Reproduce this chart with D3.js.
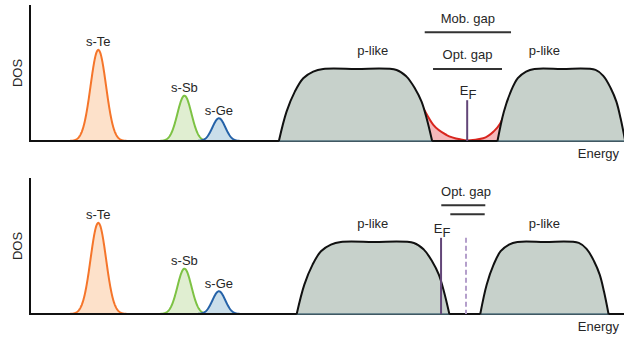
<!DOCTYPE html>
<html lang="en">
<head>
<meta charset="UTF-8">
<title>DOS schematic</title>
<style>
  body { margin: 0; background: #fff; }
  svg { display: block; font-family: "Liberation Sans", Arial, sans-serif; }
</style>
</head>
<body>
<svg width="624" height="340"></svg>
<script src="https://d3js.org/d3.v7.min.js"></script>
<script>

// Data (energy in arbitrary units 0-100, DOS normalised 0-1)

const peakNames = ["s-Te", "s-Sb", "s-Ge"];
const peakCenters = [11.5, 26.0, 31.8];
const peakHeights = [0.67, 0.333, 0.167];
const peakSigmas = [1.3, 1.18, 1.08];

// p-like band outline, normalised to the band width (u) and height (v)
const bandU = [0, 0.05, 0.104, 0.159, 0.224, 0.289, 0.5, 0.768, 0.833, 0.887, 0.931, 0.964, 1];
const bandV = [0, 0.407, 0.685, 0.871, 0.963, 1, 1, 0.986, 0.893, 0.732, 0.546, 0.315, 0];
const bandHeight = 0.53;

// per panel: [valence band, conduction band]
const bandStart = [[41.9, 78.7], [44.9, 75.8]];
const bandEnd = [[67.7, 100.2], [70.6, 97.4]];
const bandLabelE = [57.7, 86.6];

const fermi = [73.6, 69.2];
const fermiTop = [0.30, 0.56];
const fermiOld = [null, 73.4];

// localized tail states (top panel only)
const tailE = [65.3, 65.9, 67.9, 70.15, 72.4, 73.7, 76.3, 78.0, 79.1, 80.0, 80.5];
const tailD = [0.309, 0.265, 0.118, 0.044, 0.0125, 0.004, 0.02, 0.068, 0.125, 0.213, 0.272];

// gap bars: [label, start, end, dos]
const gapsTop = [["Mob. gap", 66.45, 80.98, 0.80], ["Opt. gap", 67.85, 79.46, 0.53]];
const gapsBottom = [["Opt. gap", 69.24, 76.65, 0.80], ["", 70.76, 76.55, 0.733]];
const gapLabelE = [null, 73.4];

// Layout

const width = 624;
const panelBase = [141, 314];
const panelH = 136;
const x0 = 30;
const FONT = 13;

// Colors

const PEAK_STROKE = ["#f5752a", "#7dc244", "#2562a8"];
const PEAK_FILL = ["#fde1ca", "#e0eed1", "#cadeea"];
const BAND_FILL = "#c7d1cb";
const TAIL = "#d8261f";
const TAIL_FILL = "#f5b8bb";
const EF = "#634678";
const EF_OLD = "#b49fcb";
const TEXT = "#262626";

const svg = d3.select("svg");

const x = d3.scaleLinear().domain([0, 100]).range([x0, width]);

function gauss(c, h, s) {
  return d3.range(c - 4.5 * s, c + 4.5 * s, 0.05).map(e => [e, h * Math.exp(-((e - c) ** 2) / (2 * s * s))]);
}

[0, 1].forEach(p => {
  const y = d3.scaleLinear().domain([0, 1]).range([panelBase[p], panelBase[p] - panelH]);
  const g = svg.append("g");

  const line = d3.line().x(d => x(d[0])).y(d => y(d[1]));
  const area = d3.area().x(d => x(d[0])).y0(y(0)).y1(d => y(d[1]));

  // s-like peaks
  peakNames.forEach((name, i) => {
    const pts = gauss(peakCenters[i], peakHeights[i], peakSigmas[i]);
    g.append("path").attr("d", area(pts)).attr("fill", PEAK_FILL[i]);
    g.append("path").attr("d", line(pts)).attr("fill", "none")
      .attr("stroke", PEAK_STROKE[i]).attr("stroke-width", 2);
    g.append("text")
      .attr("x", x(peakCenters[i])).attr("y", y(peakHeights[i]) - 3.5)
      .attr("text-anchor", "middle").attr("font-size", FONT).attr("fill", TEXT)
      .text(name);
  });

  // tail states
  if (p === 0) {
    const tail = tailE.map((e, i) => [e, tailD[i]]);
    g.append("path").attr("d", area.curve(d3.curveMonotoneX)(tail)).attr("fill", TAIL_FILL);
    g.append("path").attr("d", line.curve(d3.curveMonotoneX)(tail)).attr("fill", "none")
      .attr("stroke", TAIL).attr("stroke-width", 2);
    area.curve(d3.curveLinear);
    line.curve(d3.curveLinear);
  }

  // baseline
  g.append("line").attr("x1", x0).attr("x2", width).attr("y1", y(0)).attr("y2", y(0))
    .attr("stroke", "#111").attr("stroke-width", 2);

  // p-like bands
  const bandLine = d3.line().curve(d3.curveCatmullRom.alpha(0.5)).x(d => x(d[0])).y(d => y(d[1]));
  bandStart[p].forEach((s, b) => {
    const e = bandEnd[p][b];
    const pts = bandU.map((u, i) => [s + u * (e - s), bandV[i] * bandHeight]);
    g.append("path").attr("d", bandLine(pts) + "Z").attr("fill", BAND_FILL);
    g.append("line").attr("x1", x(s)).attr("x2", x(e)).attr("y1", y(0)).attr("y2", y(0))
      .attr("stroke", "#50707e").attr("stroke-width", 1.5);
    g.append("path").attr("d", bandLine(pts)).attr("fill", "none")
      .attr("stroke", "#111").attr("stroke-width", 2);
    g.append("text")
      .attr("x", x(bandLabelE[b])).attr("y", y(0.632))
      .attr("text-anchor", "middle").attr("font-size", FONT).attr("fill", TEXT)
      .text("p-like");
  });

  // y axis
  g.append("line").attr("x1", x0).attr("x2", x0).attr("y1", y(1)).attr("y2", y(0) + 1)
    .attr("stroke", "#111").attr("stroke-width", 2);

  g.append("text")
    .attr("transform", `translate(21.5,${y(0.5)}) rotate(-90)`)
    .attr("text-anchor", "middle").attr("font-size", FONT).attr("fill", TEXT)
    .text("DOS");

  g.append("text")
    .attr("x", 619).attr("y", y(0) + 17)
    .attr("text-anchor", "end").attr("font-size", FONT).attr("fill", TEXT)
    .text("Energy");

  // Fermi level
  if (fermiOld[p] !== null) {
    g.append("line").attr("x1", x(fermiOld[p])).attr("x2", x(fermiOld[p]))
      .attr("y1", y(fermiTop[p])).attr("y2", y(0))
      .attr("stroke", EF_OLD).attr("stroke-width", 2).attr("stroke-dasharray", "5,3");
  }
  g.append("line").attr("x1", x(fermi[p])).attr("x2", x(fermi[p]))
    .attr("y1", y(fermiTop[p])).attr("y2", y(0))
    .attr("stroke", EF).attr("stroke-width", 2);

  const ef = g.append("text")
    .attr("x", x(fermi[p]) + 1).attr("y", y(fermiTop[p]) - 5)
    .attr("text-anchor", "middle").attr("font-size", FONT).attr("fill", TEXT);
  ef.append("tspan").text("E");
  ef.append("tspan").attr("dy", 4).text("F");

  // gaps
  const gaps = p === 0 ? gapsTop : gapsBottom;
  gaps.forEach(([label, a, b, d]) => {
    g.append("line").attr("x1", x(a)).attr("x2", x(b)).attr("y1", y(d)).attr("y2", y(d))
      .attr("stroke", "#333").attr("stroke-width", 2);
    if (label) {
      const cx = gapLabelE[p] !== null ? x(gapLabelE[p]) : (x(a) + x(b)) / 2;
      g.append("text")
        .attr("x", cx).attr("y", y(d) - 9.5)
        .attr("text-anchor", "middle").attr("font-size", FONT).attr("fill", TEXT)
        .text(label);
    }
  });
});
</script>
</body>
</html>
